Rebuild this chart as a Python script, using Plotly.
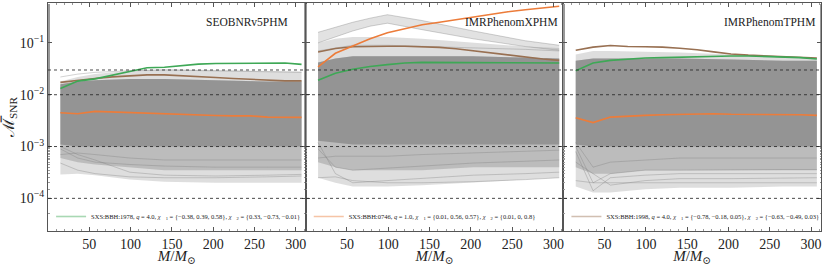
import plotly.graph_objects as go

# ---------------- data ----------------
panel_names = ["SEOBNRv5PHM", "IMRPhenomXPHM", "IMRPhenomTPHM"]

M_pts = [15, 36, 57, 78, 99, 120, 141, 162, 182, 203, 224, 245, 266, 287, 307]

green_seob = [0.0132, 0.0183, 0.0202, 0.0239, 0.0285, 0.0331, 0.0340, 0.0366, 0.0389, 0.0400, 0.0400, 0.0402, 0.0405, 0.0410, 0.0385]
brown_seob = [0.0173, 0.0191, 0.0206, 0.0221, 0.0235, 0.0242, 0.0242, 0.0235, 0.0228, 0.0215, 0.0206, 0.0199, 0.0191, 0.0185, 0.0185]
orange_seob = [0.00448, 0.00428, 0.00476, 0.00462, 0.00455, 0.00448, 0.00436, 0.00422, 0.00410, 0.00398, 0.00390, 0.00390, 0.00370, 0.00370, 0.00365]

green_xphm = [0.019, 0.026, 0.031, 0.035, 0.038, 0.041, 0.042, 0.042, 0.042, 0.042, 0.041, 0.041, 0.041, 0.041, 0.041]
brown_xphm = [0.067, 0.078, 0.084, 0.086, 0.086, 0.086, 0.085, 0.082, 0.077, 0.070, 0.064, 0.059, 0.054, 0.049, 0.046]
orange_xphm = [0.0345, 0.063, 0.087, 0.12, 0.157, 0.189, 0.224, 0.25, 0.28, 0.32, 0.357, 0.40, 0.436, 0.477, 0.51]

green_tphm = [0.029, 0.041, 0.046, 0.049, 0.051, 0.052, 0.053, 0.054, 0.056, 0.056, 0.056, 0.055, 0.054, 0.052, 0.049]
brown_tphm = [0.072, 0.083, 0.089, 0.085, 0.084, 0.083, 0.079, 0.074, 0.067, 0.061, 0.058, 0.056, 0.055, 0.053, 0.051]
orange_tphm = [0.0036, 0.0029, 0.0037, 0.0039, 0.0040, 0.0041, 0.0042, 0.0042, 0.0043, 0.0042, 0.0042, 0.0042, 0.0042, 0.0041, 0.0040]

# envelopes of the grey bundle of all other simulations
M_band = [15, 36, 57, 99, 141, 203, 266, 307]

seob_max = [0.018, 0.022, 0.025, 0.029, 0.031, 0.030, 0.029, 0.028]
seob_core_hi = [0.016, 0.018, 0.019, 0.020, 0.020, 0.019, 0.018, 0.018]
seob_core_lo = [0.0011, 0.0010, 0.0010, 0.0010, 0.0010, 0.0010, 0.0010, 0.0010]
seob_mid_lo = [6.0e-4, 5.0e-4, 4.5e-4, 4.0e-4, 3.5e-4, 3.5e-4, 3.5e-4, 3.5e-4]
seob_min = [2.9e-4, 3.0e-4, 2.8e-4, 2.3e-4, 2.1e-4, 2.0e-4, 2.0e-4, 2.0e-4]

xphm_max = [0.10, 0.12, 0.13, 0.13, 0.12, 0.10, 0.085, 0.08]
xphm_core_hi = [0.042, 0.05, 0.055, 0.055, 0.055, 0.055, 0.052, 0.05]
xphm_core_lo = [0.0013, 0.0012, 0.0011, 0.0011, 0.0011, 0.0011, 0.0011, 0.0011]
xphm_mid_lo = [5.0e-4, 4.0e-4, 3.5e-4, 3.5e-4, 3.5e-4, 4.0e-4, 4.0e-4, 4.0e-4]
xphm_min = [2.5e-4, 2.0e-4, 1.7e-4, 1.7e-4, 1.8e-4, 2.0e-4, 2.3e-4, 2.5e-4]

M_bundle = [15, 36, 57, 78, 99, 141, 203, 266, 307]
xphm_bundle_hi = [0.16, 0.20, 0.25, 0.30, 0.35, 0.27, 0.17, 0.11, 0.09]
xphm_bundle_lo = [0.10, 0.13, 0.17, 0.21, 0.24, 0.18, 0.12, 0.085, 0.072]

tphm_max = [0.06, 0.07, 0.07, 0.068, 0.065, 0.06, 0.055, 0.05]
tphm_core_hi = [0.045, 0.05, 0.05, 0.05, 0.05, 0.048, 0.045, 0.045]
tphm_core_lo = [0.0011, 0.0010, 0.0010, 0.0010, 0.0010, 0.0010, 0.0010, 0.0010]
tphm_mid_lo = [4.0e-4, 3.0e-4, 3.0e-4, 3.5e-4, 3.5e-4, 3.5e-4, 3.5e-4, 3.5e-4]
tphm_min = [1.7e-4, 1.3e-4, 1.3e-4, 1.5e-4, 1.6e-4, 1.6e-4, 1.7e-4, 1.7e-4]

# a few individually visible faint curves
faint_seob = [[4.8e-4, 3.5e-4, 3.0e-4, 2.6e-4, 2.5e-4, 2.5e-4, 2.6e-4, 2.7e-4],
              [9.0e-4, 6.0e-4, 5.0e-4, 4.5e-4, 4.2e-4, 4.0e-4, 4.0e-4, 4.0e-4],
              [1.0e-3, 7.0e-4, 5.5e-4, 3.2e-4, 2.8e-4, 2.7e-4, 2.8e-4, 2.9e-4],
              [0.022, 0.025, 0.027, 0.029, 0.030, 0.029, 0.028, 0.027],
              [7.0e-4, 7.5e-4, 7.0e-4, 6.0e-4, 5.5e-4, 5.5e-4, 5.5e-4, 5.5e-4]]
faint_xphm = [[1.2e-3, 3.0e-4, 2.0e-4, 2.2e-4, 2.4e-4, 2.8e-4, 3.0e-4, 3.2e-4],
              [9.0e-4, 4.0e-4, 3.5e-4, 3.8e-4, 4.2e-4, 4.8e-4, 5.2e-4, 5.5e-4],
              [2.5e-4, 2.6e-4, 2.2e-4, 2.0e-4, 2.0e-4, 2.1e-4, 2.3e-4, 2.5e-4],
              [6.0e-4, 6.5e-4, 6.5e-4, 6.5e-4, 7.0e-4, 7.5e-4, 8.0e-4, 8.5e-4],
              [0.07, 0.08, 0.09, 0.09, 0.085, 0.08, 0.075, 0.07]]
faint_tphm = [[1.0e-3, 2.0e-4, 3.0e-4, 3.5e-4, 3.5e-4, 3.6e-4, 3.6e-4, 3.6e-4],
              [8.0e-4, 1.4e-4, 2.5e-4, 2.8e-4, 3.0e-4, 3.0e-4, 3.0e-4, 3.0e-4],
              [5.0e-4, 3.0e-4, 1.8e-4, 2.2e-4, 2.4e-4, 2.4e-4, 2.5e-4, 2.5e-4],
              [1.2e-3, 4.0e-4, 5.0e-4, 5.5e-4, 6.0e-4, 6.0e-4, 6.0e-4, 6.0e-4],
              [2.2e-4, 2.0e-4, 2.0e-4, 2.0e-4, 2.0e-4, 2.0e-4, 2.0e-4, 2.0e-4]]

threshold_lines = [0.03, 0.01, 0.001, 0.0001]

legend_labels = [
    "SXS:BBH:1978, <i>q</i> = 4.0, <i>χ⃗</i><sub>1</sub> = {−0.38, 0.39, 0.58}, <i>χ⃗</i><sub>2</sub> = {0.33, −0.73, −0.01}",
    "SXS:BBH:0746, <i>q</i> = 1.0, <i>χ⃗</i><sub>1</sub> = {0.01, 0.56, 0.57}, <i>χ⃗</i><sub>2</sub> = {0.01, 0, 0.8}",
    "SXS:BBH:1998, <i>q</i> = 4.0, <i>χ⃗</i><sub>1</sub> = {−0.78, −0.18, 0.05}, <i>χ⃗</i><sub>2</sub> = {−0.63, −0.49, 0.03}",
]

x_ticks = [50, 100, 150, 200, 250, 300]
y_ticks = [1e-4, 1e-3, 1e-2, 1e-1]
y_ticktext = ["10<sup>−4</sup>", "10<sup>−3</sup>", "10<sup>−2</sup>", "10<sup>−1</sup>"]

# ---------------- styling ----------------
GREEN = "rgb(62,168,86)"
ORANGE = "rgb(236,124,58)"
BROWN = "rgb(152,112,82)"
GREEN_L = "rgba(62,168,86,0.45)"
ORANGE_L = "rgba(236,124,58,0.45)"
BROWN_L = "rgba(152,112,82,0.45)"
SERIF = "Liberation Serif, DejaVu Serif, serif"

fig = go.Figure()

bands = [
    (seob_min, seob_max, seob_mid_lo, seob_core_lo, seob_core_hi, faint_seob),
    (xphm_min, xphm_max, xphm_mid_lo, xphm_core_lo, xphm_core_hi, faint_xphm),
    (tphm_min, tphm_max, tphm_mid_lo, tphm_core_lo, tphm_core_hi, faint_tphm),
]
highlights = [
    (green_seob, brown_seob, orange_seob),
    (green_xphm, brown_xphm, orange_xphm),
    (green_tphm, brown_tphm, orange_tphm),
]
legend_colors = [GREEN_L, ORANGE_L, BROWN_L]
legend_names = ["legend", "legend2", "legend3"]

for p in range(3):
    xa = "x" if p == 0 else f"x{p+1}"
    ya = "y" if p == 0 else f"y{p+1}"
    bmin, bmax, bmid, bclo, bchi, faint = bands[p]

    def band(lo, hi, color):
        fig.add_trace(go.Scatter(x=M_band, y=lo, xaxis=xa, yaxis=ya, mode="lines",
                                 line=dict(width=0, color=color), showlegend=False, hoverinfo="skip"))
        fig.add_trace(go.Scatter(x=M_band, y=hi, xaxis=xa, yaxis=ya, mode="lines",
                                 line=dict(width=0, color=color), fill="tonexty", fillcolor=color,
                                 showlegend=False, hoverinfo="skip"))

    band(bmin, bmax, "rgba(125,125,125,0.25)")
    band(bmid, bchi, "rgba(125,125,125,0.35)")
    band(bclo, bchi, "rgba(125,125,125,0.62)")

    if p == 1:
        fig.add_trace(go.Scatter(x=M_bundle, y=xphm_bundle_lo, xaxis=xa, yaxis=ya, mode="lines",
                                 line=dict(width=1, color="rgba(125,125,125,0.35)"),
                                 showlegend=False, hoverinfo="skip"))
        fig.add_trace(go.Scatter(x=M_bundle, y=xphm_bundle_hi, xaxis=xa, yaxis=ya, mode="lines",
                                 line=dict(width=1, color="rgba(125,125,125,0.35)"),
                                 fill="tonexty", fillcolor="rgba(125,125,125,0.22)",
                                 showlegend=False, hoverinfo="skip"))

    for f in faint:
        fig.add_trace(go.Scatter(x=M_band, y=f, xaxis=xa, yaxis=ya, mode="lines",
                                 line=dict(width=1, color="rgba(125,125,125,0.35)"),
                                 showlegend=False, hoverinfo="skip"))

    g, b, o = highlights[p]
    for vals, col in ((b, BROWN), (g, GREEN), (o, ORANGE)):
        fig.add_trace(go.Scatter(x=M_pts, y=vals, xaxis=xa, yaxis=ya, mode="lines",
                                 line=dict(width=1.6, color=col), showlegend=False))

    # legend-only entry
    fig.add_trace(go.Scatter(x=[None], y=[None], xaxis=xa, yaxis=ya, mode="lines",
                             line=dict(width=1.6, color=legend_colors[p]),
                             name=legend_labels[p], legend=legend_names[p], showlegend=True))

# threshold lines
shapes = []
for t in threshold_lines:
    shapes.append(dict(type="line", xref="paper", yref="y", x0=0, x1=1, y0=t, y1=t,
                       line=dict(color="rgba(40,40,40,0.85)", width=1, dash="dot"), layer="above"))

domains = [[0, 1/3], [1/3, 2/3], [2/3, 1]]
axis_common = dict(showline=True, linecolor="#555", linewidth=1, mirror="allticks",
                   ticks="inside", ticklen=4, tickcolor="#555", showgrid=False, zeroline=False,
                   automargin=False,
                   tickfont=dict(family=SERIF, size=14, color="#222"))

layout = dict(
    width=831, height=266,
    margin=dict(l=48, r=10, t=3, b=35),
    plot_bgcolor="white", paper_bgcolor="white",
    shapes=shapes,
    annotations=[],
)

for p in range(3):
    kx = "xaxis" if p == 0 else f"xaxis{p+1}"
    ky = "yaxis" if p == 0 else f"yaxis{p+1}"
    layout[kx] = dict(axis_common, domain=domains[p], range=[0, 312], tickvals=x_ticks,
                      anchor="y" if p == 0 else f"y{p+1}", ticklabelstandoff=0,
                      minor=dict(ticks="inside", ticklen=2, dtick=10, tickcolor="#999"),
                      title=dict(text="<i>M</i>/<i>M</i><sub>⊙</sub>", standoff=5,
                                 font=dict(family=SERIF, size=15, color="#222")))
    ydict = dict(axis_common, type="log", range=[-4.63, -0.23], tickvals=y_ticks,
                 ticktext=y_ticktext, anchor="x" if p == 0 else f"x{p+1}",
                 minor=dict(ticks="inside", ticklen=1.5, tickcolor="#999"))
    if p == 0:
        ydict["title"] = dict(text="ℳ̅<sub>SNR</sub>", standoff=2,
                              font=dict(family=SERIF, size=16, color="#222"))
    else:
        ydict["matches"] = "y"
        ydict["showticklabels"] = False
    layout[ky] = ydict

# panel names
name_x = [0.2574, 0.600, 0.934]
for p in range(3):
    layout["annotations"].append(dict(text=panel_names[p], xref="paper", yref="paper",
                                      x=name_x[p], y=0.917, showarrow=False,
                                      xanchor="center", yanchor="middle",
                                      font=dict(family=SERIF, size=11.5, color="#222")))

leg_x = [0.0, 1/3, 2/3]
for p in range(3):
    layout[legend_names[p]] = dict(x=leg_x[p] + 0.004, y=0.0, xanchor="left", yanchor="bottom",
                                   bgcolor="rgba(0,0,0,0)", borderwidth=0,
                                   font=dict(family=SERIF, size=6.5, color="#222"),
                                   itemwidth=30)

fig.update_layout(**layout)
fig.write_html("out.html", config={"displayModeBar": False},
               post_script="document.body.style.margin='0px';")
